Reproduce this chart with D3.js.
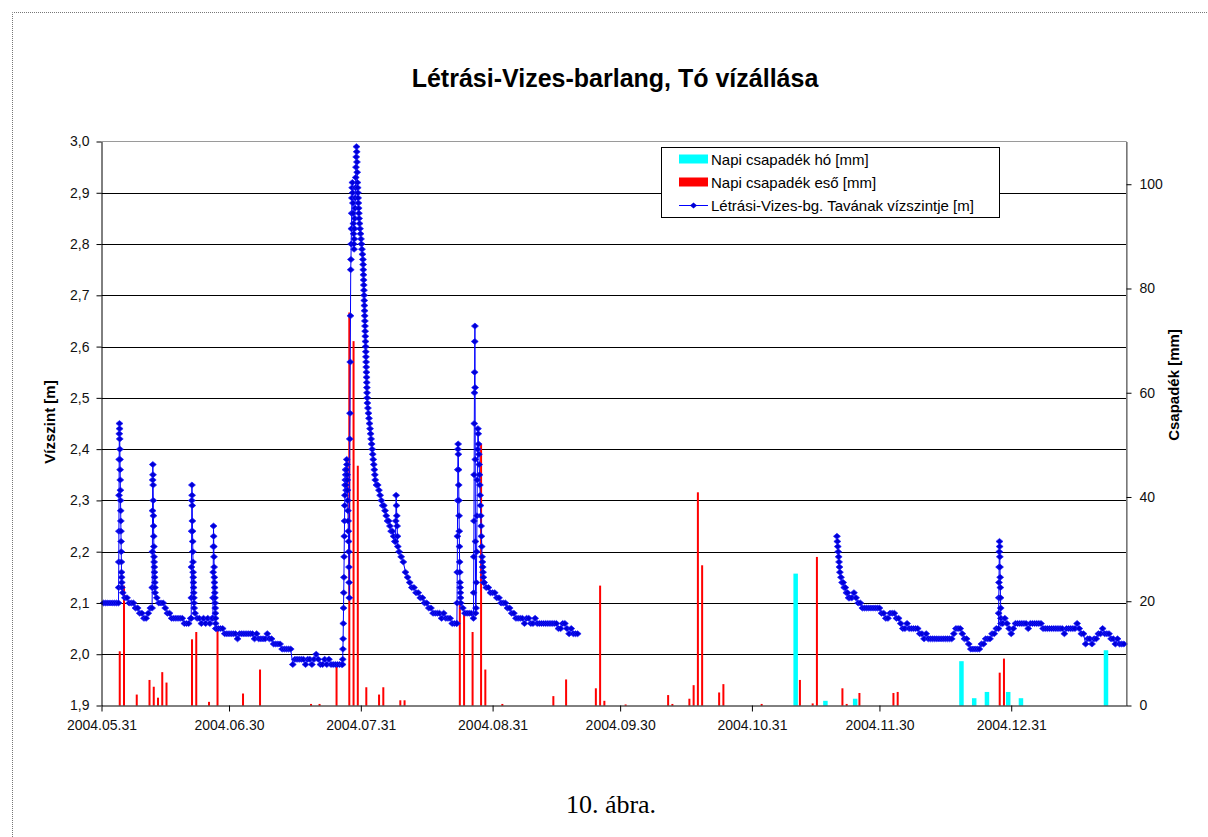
<!DOCTYPE html>
<html>
<head>
<meta charset="utf-8">
<script src="https://cdn.jsdelivr.net/npm/d3@7"></script>
<style>
  body { margin: 0; background: #fff; }
  text { font-family: "Liberation Sans", Arial, sans-serif; }
</style>
</head>
<body>
<svg id="chart" width="1208" height="837"></svg>
<script>
// ---- data ----
var startDate = "2004.05.31";
var endDate = "2005.01.27";
var xTickLabels = ["2004.05.31", "2004.06.30", "2004.07.31", "2004.08.31",
                   "2004.09.30", "2004.10.31", "2004.11.30", "2004.12.31"];
var levelTicks = [1.9, 2.0, 2.1, 2.2, 2.3, 2.4, 2.5, 2.6, 2.7, 2.8, 2.9, 3.0];
var rainTicks = [0, 20, 40, 60, 80, 100];

// daily precipitation, rain [mm]
var rainDates = ["2004.06.04", "2004.06.05", "2004.06.08", "2004.06.11", "2004.06.12", "2004.06.13",
  "2004.06.14", "2004.06.15", "2004.06.21", "2004.06.22", "2004.06.25", "2004.06.27", "2004.07.03",
  "2004.07.07", "2004.07.19", "2004.07.21", "2004.07.25", "2004.07.28", "2004.07.29", "2004.07.30",
  "2004.08.01", "2004.08.04", "2004.08.05", "2004.08.09", "2004.08.10", "2004.08.23", "2004.08.24",
  "2004.08.26", "2004.08.28", "2004.08.29", "2004.09.02", "2004.09.14", "2004.09.17", "2004.09.24",
  "2004.09.25", "2004.09.26", "2004.10.01", "2004.10.11", "2004.10.12", "2004.10.16", "2004.10.17",
  "2004.10.18", "2004.10.19", "2004.10.23", "2004.10.24", "2004.11.02", "2004.11.11", "2004.11.14",
  "2004.11.15", "2004.11.21", "2004.11.22", "2004.11.25", "2004.12.03", "2004.12.04", "2004.12.28",
  "2004.12.29"];
var rainValues = [10.4, 23.0, 2.1, 4.9, 3.6, 1.5,
  6.4, 4.4, 12.7, 14.1, 0.7, 14.3, 2.3,
  6.9, 0.3, 0.3, 7.4, 75.4, 69.9, 46.0,
  3.5, 2.1, 3.5, 1.0, 1.0, 19.3, 18.0,
  14.1, 50.2, 6.9, 0.3, 1.8, 5.0, 3.3,
  23.0, 0.9, 0.2, 2.0, 0.3, 1.3, 3.9,
  40.9, 26.9, 2.5, 4.1, 0.3, 4.9, 0.4,
  28.5, 3.3, 0.3, 2.4, 2.4, 2.6, 6.3,
  9.0];

// daily precipitation, snow [mm]
var snowDates = ["2004.11.10", "2004.11.17", "2004.11.24", "2004.12.19", "2004.12.22",
  "2004.12.25", "2004.12.30", "2005.01.02", "2005.01.22"];
var snowValues = [25.3, 0.9, 1.3, 8.5, 1.4, 2.6, 2.6, 1.4, 10.6];

// lake level [cm], one reading every half day, summer part (from day 0.5)
var levelStartA = 0.5;
var levelA = [
  210, 210, 210, 210, 210, 210, 210, 210, 230, 212,
  211, 211, 210, 210, 210, 209, 209, 208, 208, 207,
  207, 208, 209, 230, 215, 211, 210, 210, 210, 209,
  208, 208, 207, 207, 207, 207, 207, 207, 206, 206,
  206, 207, 225, 208, 207, 207, 206, 207, 206, 207,
  206, 207, 220, 205, 205, 205, 205, 204, 204, 204,
  204, 204, 204, 203, 204, 204, 204, 204, 204, 204,
  204, 203, 204, 203, 203, 203, 203, 204, 203, 203,
  202, 202, 202, 202, 201, 201, 201, 201, 201, 198,
  199, 199, 199, 199, 199, 198, 199, 199, 198, 199,
  200, 199, 198, 198, 199, 198, 199, 198, 198, 198,
  198, 198, 198, 230, 234, 220, 260, 285, 292, 297,
  286, 282, 276, 265, 250, 244, 241, 237, 234, 232,
  231, 230, 229, 228, 227, 226, 225, 224, 226, 220,
  219, 218, 216, 215, 214, 213, 213, 212, 212, 211,
  211, 210, 210, 209, 209, 208, 208, 208, 208, 207,
  208, 207, 207, 207, 206, 206, 206, 230, 212, 209,
  208, 208, 208, 208, 210, 208, 240, 230, 220, 214,
  213, 213, 212, 212, 212, 211, 211, 210, 210, 210,
  209, 209, 208, 208, 207, 207, 207, 207, 206, 207,
  207, 206, 206, 207, 206, 206, 206, 206, 206, 206,
  206, 206, 206, 206, 205, 205, 206, 206, 205, 204,
  205, 204, 204, 204
];

// lake level [cm], winter part (from day 176.5)
var levelStartB = 176.5;
var levelB = [
  211, 212, 211, 210, 210, 209, 209, 209, 209, 209,
  209, 209, 209, 209, 208, 208, 207, 207, 208, 208,
  208, 207, 207, 206, 205, 205, 206, 205, 205, 205,
  205, 205, 204, 204, 203, 204, 203, 203, 203, 203,
  203, 203, 203, 203, 203, 203, 203, 203, 204, 205,
  205, 205, 204, 203, 203, 202, 201, 201, 201, 201,
  201, 202, 202, 203, 203, 203, 204, 204, 205, 205,
  207, 206, 207, 206, 205, 204, 205, 206, 206, 206,
  206, 206, 206, 205, 206, 206, 206, 206, 206, 206,
  205, 205, 205, 205, 205, 205, 205, 205, 205, 205,
  204, 205, 205, 205, 205, 205, 206, 205, 204, 204,
  202, 203, 203, 202, 203, 203, 204, 204, 205, 204,
  204, 204, 203, 203, 202, 203, 202, 202, 202
];

// fast changes, dense readings: [first day, last day, levels in cm]
var bursts = [
  [4.0, 4.8, [210, 213, 218, 224, 231, 238, 243, 245, 244, 242, 240, 238, 236, 234, 232, 230, 228, 226, 224, 222, 220, 218, 216, 215, 214, 213]],
  [11.9, 12.6, [209, 213, 220, 228, 234, 237, 235, 233, 230, 227, 225, 223, 221, 219, 218, 217, 216, 215, 214, 213, 212]],
  [21.1, 21.8, [207, 211, 217, 224, 230, 233, 231, 229, 226, 224, 222, 220, 218, 216, 215, 214, 213, 212, 211, 210, 209]],
  [26.2, 26.9, [207, 211, 216, 221, 225, 223, 221, 219, 217, 215, 214, 213, 212, 211, 210, 209, 208, 207, 206, 205]],
  [56.7, 58.3, [198, 199, 201, 203, 206, 209, 212, 215, 219, 223, 226, 229, 231, 233, 234, 236, 235, 233, 232, 234, 236, 238, 237, 235, 234, 232, 230, 228, 226, 224, 222, 220, 217, 214, 211]],
  [58.4, 60.6, [242, 247, 257, 266, 275, 277, 280, 283, 286, 289, 291, 292, 290, 288, 286, 284, 282, 280, 279, 281, 283, 285, 287, 289, 291, 293, 295, 297, 299, 298, 296, 294, 292, 291, 290, 289, 288, 287, 286, 285]],
  [60.7, 61.5, [284, 283, 282, 281, 280, 279, 278, 277]],
  [61.55, 62.5, [276, 275, 274, 273, 272, 271, 270, 269, 268, 267, 266, 265, 264, 263, 262, 261, 260, 259, 258, 257, 256, 255, 254, 253, 252, 251, 250]],
  [62.55, 64.3, [249, 248, 247, 246, 245, 244, 243, 242, 241, 240, 239, 238, 237, 236, 235]],
  [64.4, 69.0, [234, 233, 233, 232, 231, 230, 229, 229, 228, 227, 226, 226, 225, 224, 224, 223, 222]],
  [69.15, 69.7, [222, 226, 231, 229, 227, 225, 223, 221]],
  [83.6, 84.5, [206, 210, 216, 223, 230, 236, 240, 241, 239, 236, 233, 230, 227, 224, 221, 218, 216, 214, 213, 212, 211, 210]],
  [87.5, 88.0, [207, 212, 219, 226, 235, 245, 251, 255, 261, 264, 252, 238, 222, 208]],
  [88.1, 89.9, [209, 214, 220, 227, 234, 240, 244, 243, 241, 239, 237, 235, 233, 231, 229, 227, 225, 223, 221, 219, 218, 217, 216, 215, 214]],
  [173.0, 173.6, [223, 222, 221, 220, 219, 218, 217]],
  [173.7, 176.0, [216, 215, 214, 214, 213, 213, 212, 212, 211, 211]],
  [211.0, 211.6, [205, 208, 211, 214, 217, 220, 222, 221, 219, 217, 215, 213, 211, 209, 207, 206]]
];

// ---- chart ----
var W = 1208, H = 837;
var plot = {left: 101.5, right: 1126, top: 141.5, bottom: 705.5};
var DAY = 864e5;
var parseDate = d3.utcParse("%Y.%m.%d");
var t0 = parseDate(startDate);

function dayDate(d) { return new Date(+t0 + d * DAY); }

var x = d3.scaleUtc()
  .domain([t0, parseDate(endDate)])
  .range([plot.left, plot.right]);
var yL = d3.scaleLinear().domain([1.9, 3.0]).range([plot.bottom, plot.top]);
var yR = d3.scaleLinear().domain([0, 108.2]).range([plot.bottom, plot.top]);

function buildSeries(start, values) {
  var end = start + (values.length - 1) * 0.5;
  var pts = [];
  values.forEach(function (v, i) {
    var d = start + i * 0.5;
    var inBurst = bursts.some(function (b) { return d >= b[0] && d <= b[1]; });
    if (!inBurst) pts.push({d: d, v: v / 100});
  });
  bursts.forEach(function (b) {
    if (b[1] < start - 5 || b[0] > end) return;
    var n = b[2].length;
    b[2].forEach(function (v, k) {
      pts.push({d: b[0] + (b[1] - b[0]) * k / (n - 1), v: v / 100});
    });
  });
  return pts.sort(function (a, b) { return a.d - b.d; });
}

var seriesA = buildSeries(levelStartA, levelA);
var seriesB = buildSeries(levelStartB, levelB);

var svg = d3.select("#chart");
svg.append("rect").attr("width", W).attr("height", H).attr("fill", "#fff");

// dotted frame
svg.append("path")
  .attr("d", "M12.5,845V12.5H1207.5")
  .attr("fill", "none")
  .attr("stroke", "#777")
  .attr("stroke-dasharray", "1,1");

svg.append("text")
  .attr("x", 615).attr("y", 87)
  .attr("text-anchor", "middle")
  .style("font-size", "25px").style("font-weight", "bold")
  .text("Létrási-Vizes-barlang, Tó vízállása");

// gridlines
svg.append("g").selectAll("line")
  .data(levelTicks.slice(1, -1))
  .enter().append("line")
    .attr("x1", plot.left).attr("x2", plot.right)
    .attr("y1", function (d) { return Math.round(yL(d)) + 0.5; })
    .attr("y2", function (d) { return Math.round(yL(d)) + 0.5; })
    .attr("stroke", "#000");

// plot frame top / right
svg.append("path")
  .attr("d", "M" + plot.left + "," + plot.top + "H" + (plot.right + 0.5) + "V" + plot.bottom)
  .attr("fill", "none").attr("stroke", "#9a9a9a");

function barX(dateStr, w) {
  return x(new Date(+parseDate(dateStr) + 7 * 36e5)) - w / 2;
}

// bars
var barsG = svg.append("g");
barsG.selectAll("rect.snow")
  .data(snowDates)
  .enter().append("rect")
    .attr("class", "snow")
    .attr("x", function (d) { return barX(d, 4.5); })
    .attr("width", 4.5)
    .attr("y", function (d, i) { return yR(snowValues[i]); })
    .attr("height", function (d, i) { return plot.bottom - yR(snowValues[i]); })
    .attr("fill", "#00ffff");
barsG.selectAll("rect.rain")
  .data(rainDates)
  .enter().append("rect")
    .attr("class", "rain")
    .attr("x", function (d) { return barX(d, 2); })
    .attr("width", 2)
    .attr("y", function (d, i) { return yR(rainValues[i]); })
    .attr("height", function (d, i) { return plot.bottom - yR(rainValues[i]); })
    .attr("fill", "#ff0000");

// level line + markers
var line = d3.line()
  .x(function (p) { return x(dayDate(p.d)); })
  .y(function (p) { return yL(p.v); });
var marker = "M-3.5,0L0,-3L3.5,0L0,3Z";

[seriesA, seriesB].forEach(function (s) {
  svg.append("path")
    .datum(s)
    .attr("d", line)
    .attr("fill", "none")
    .attr("stroke", "#0000ff")
    .attr("stroke-width", 1);
  svg.append("g").selectAll("path")
    .data(s)
    .enter().append("path")
      .attr("d", marker)
      .attr("transform", function (p) { return "translate(" + x(dayDate(p.d)) + "," + yL(p.v) + ")"; })
      .attr("fill", "#0000d8")
      .attr("stroke", "#1a1aff")
      .attr("stroke-width", 0.7);
});

// axes
var axL = svg.append("g")
  .attr("transform", "translate(" + plot.left + ",0)")
  .call(d3.axisLeft(yL).tickValues(levelTicks).tickSize(5).tickSizeOuter(0).tickPadding(7)
    .tickFormat(function (d) { return d3.format(".1f")(d).replace(".", ","); }));
var axR = svg.append("g")
  .attr("transform", "translate(" + (plot.right + 0.5) + ",0)")
  .call(d3.axisRight(yR).tickValues(rainTicks).tickSize(5).tickSizeOuter(0).tickPadding(8));
var axB = svg.append("g")
  .attr("transform", "translate(0," + plot.bottom + ")")
  .call(d3.axisBottom(x).tickValues(xTickLabels.map(parseDate)).tickSize(6).tickSizeOuter(0).tickPadding(9)
    .tickFormat(d3.utcFormat("%Y.%m.%d")));

[axL, axR, axB].forEach(function (a) {
  a.selectAll("text").style("font-size", "14px").attr("fill", "#111");
  a.selectAll("line").attr("stroke", "#000");
  a.select(".domain").attr("stroke", "#000");
});
axR.select(".domain").attr("stroke", "#555");

svg.append("text")
  .attr("transform", "translate(55,422) rotate(-90)")
  .attr("text-anchor", "middle")
  .style("font-size", "15px").style("font-weight", "bold")
  .text("Vízszint [m]");
svg.append("text")
  .attr("transform", "translate(1179,385) rotate(-90)")
  .attr("text-anchor", "middle")
  .style("font-size", "15px").style("font-weight", "bold")
  .text("Csapadék [mm]");

// legend
var lg = svg.append("g");
lg.append("rect")
  .attr("x", 661.5).attr("y", 147.5).attr("width", 338).attr("height", 70)
  .attr("fill", "#fff").attr("stroke", "#000");
var legendItems = ["Napi csapadék hó [mm]", "Napi csapadék eső [mm]", "Létrási-Vizes-bg. Tavának vízszintje [m]"];
var rowY = [159, 182, 205.5];
lg.append("rect").attr("x", 679).attr("y", rowY[0] - 4.5).attr("width", 29).attr("height", 9).attr("fill", "#00ffff");
lg.append("rect").attr("x", 679).attr("y", rowY[1] - 4.5).attr("width", 29).attr("height", 9).attr("fill", "#ff0000");
lg.append("line").attr("x1", 679).attr("x2", 708).attr("y1", rowY[2]).attr("y2", rowY[2]).attr("stroke", "#0000ff");
lg.append("path").attr("d", marker).attr("transform", "translate(693.5," + rowY[2] + ")").attr("fill", "#0000d8");
lg.selectAll("text.item")
  .data(legendItems)
  .enter().append("text")
    .attr("class", "item")
    .attr("x", 711).attr("y", function (d, i) { return rowY[i] + 5.5; })
    .style("font-size", "15px")
    .text(function (d) { return d; });

// caption
svg.append("text")
  .attr("x", 611).attr("y", 813)
  .attr("text-anchor", "middle")
  .style("font-family", "'Liberation Serif', 'Times New Roman', serif")
  .style("font-size", "26px")
  .text("10. ábra.");
</script>
</body>
</html>
